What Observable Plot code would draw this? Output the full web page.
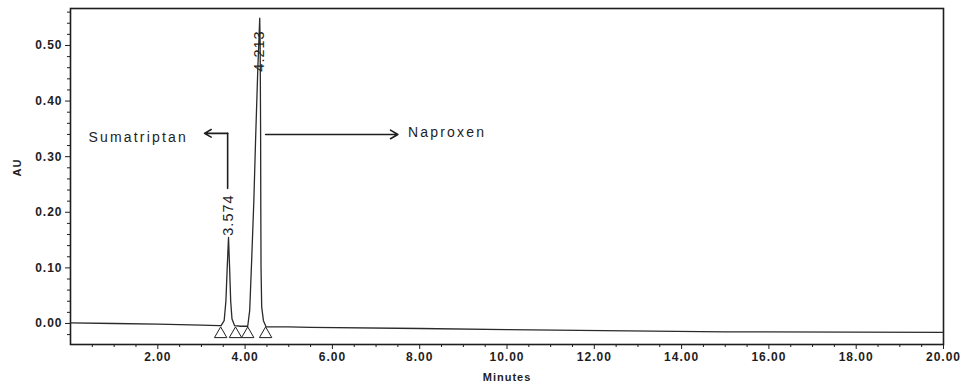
<!DOCTYPE html>
<html><head><meta charset="utf-8">
<script src="https://cdn.jsdelivr.net/npm/d3@7"></script>
<script src="https://cdn.jsdelivr.net/npm/@observablehq/plot@0.6"></script>
<style>
body{margin:0;background:#fff;}
#chart svg{display:block;}
</style>
</head><body><div id="chart"></div>
<script>
// Chromatogram trace (minutes, AU)
const traceTime = [0, 1, 2, 3, 3.40, 3.45, 3.52, 3.56, 3.59, 3.62, 3.645, 3.67, 3.70, 3.76, 3.90, 4.00, 4.06, 4.105, 4.15, 4.20, 4.24, 4.29, 4.335, 4.345, 4.355, 4.36, 4.365, 4.38, 4.42, 4.48, 5.0, 5.5, 8.0, 10.0, 12.2, 15.0, 20.0];
const traceAU   = [0.001, 0.0, -0.001, -0.003, -0.004, -0.004, 0.005, 0.04, 0.10, 0.155, 0.10, 0.04, 0.008, -0.004, -0.005, -0.005, -0.005, 0.023, 0.113, 0.22, 0.33, 0.455, 0.549, 0.50, 0.35, 0.20, 0.10, 0.03, 0.005, -0.006, -0.006, -0.007, -0.009, -0.011, -0.013, -0.015, -0.016];

// Peak retention-time labels
const peakLabels = ["3.574", "4.213"];
const peakLabelTime = [3.62, 4.33];
const peakLabelAU = [0.195, 0.49];

// Integration markers (triangles) at peak start / end
const markerTime = [3.44, 3.78, 4.06, 4.47];
const markerAU = [-0.019, -0.019, -0.019, -0.019];

// Compound annotations
const compoundNames = ["Sumatriptan", "Naproxen"];
const compoundTime = [0.41, 7.73];
const compoundAU = [0.335, 0.343];

// Arrows
const sumaStemTime = [3.60, 3.60];
const sumaStemAU = [0.243, 0.342];
const arrowX1 = [3.60, 4.47];
const arrowX2 = [3.07, 7.50];
const arrowY = [0.342, 0.340];

// Axes
const xTicks = [2, 4, 6, 8, 10, 12, 14, 16, 18, 20];
const xTickLabels = ["2.00", "4.00", "6.00", "8.00", "10.00", "12.00", "14.00", "16.00", "18.00", "20.00"];
const xMinor = [0.5, 1, 1.5, 2.5, 3, 3.5, 4.5, 5, 5.5, 6.5, 7, 7.5, 8.5, 9, 9.5, 10.5, 11, 11.5, 12.5, 13, 13.5, 14.5, 15, 15.5, 16.5, 17, 17.5, 18.5, 19, 19.5];
const yTicks = [0, 0.1, 0.2, 0.3, 0.4, 0.5];
const yTickLabels = ["0.00", "0.10", "0.20", "0.30", "0.40", "0.50"];
const yMinor = [-0.02, 0.02, 0.04, 0.06, 0.08, 0.12, 0.14, 0.16, 0.18, 0.22, 0.24, 0.26, 0.28, 0.32, 0.34, 0.36, 0.38, 0.42, 0.44, 0.46, 0.48, 0.52, 0.54, 0.56];

const trace = traceTime.map((t, i) => ({t, au: traceAU[i]}));
const peaks = peakLabels.map((s, i) => ({s, t: peakLabelTime[i], au: peakLabelAU[i]}));
const markers = markerTime.map((t, i) => ({t, au: markerAU[i]}));
const names = compoundNames.map((s, i) => ({s, t: compoundTime[i], au: compoundAU[i]}));
const stem = sumaStemTime.map((t, i) => ({t, au: sumaStemAU[i]}));
const arrows = arrowX1.map((x1, i) => ({x1, x2: arrowX2[i], y: arrowY[i]}));

const ink = "#1e1e1e";

const chart = Plot.plot({
  width: 966,
  height: 392,
  marginLeft: 70,
  marginRight: 23,
  marginTop: 8,
  marginBottom: 48,
  style: {fontFamily: "Liberation Sans, Arial, sans-serif", background: "#fff", color: ink},
  x: {domain: [0, 20], label: null},
  y: {domain: [-0.0378, 0.5665], label: null},
  marks: [
    Plot.frame({stroke: ink, strokeWidth: 1.6}),
    Plot.axisX({ticks: xMinor, tickSize: 3, tickFormat: () => "", stroke: ink}),
    Plot.axisX({ticks: xTicks, tickSize: 5, tickPadding: 3, tickFormat: d => xTickLabels[xTicks.indexOf(d)], fontSize: 12, stroke: ink, fill: ink}),
    Plot.axisY({ticks: yMinor, tickSize: 3, tickFormat: () => "", stroke: ink}),
    Plot.axisY({ticks: yTicks, tickSize: 5, tickPadding: 3, tickFormat: d => yTickLabels[yTicks.indexOf(d)], fontSize: 12, stroke: ink, fill: ink}),
    Plot.text(["AU"], {frameAnchor: "left", rotate: -90, dx: -53, fontSize: 11, fill: ink}),
    Plot.text(["Minutes"], {frameAnchor: "bottom", dy: 36, fontSize: 11, fill: ink}),
    Plot.line(trace, {x: "t", y: "au", stroke: "#2a2a2a", strokeWidth: 1.3}),
    Plot.dot(markers, {x: "t", y: "au", symbol: "triangle", r: 4.6, stroke: ink, fill: "white", strokeWidth: 1}),
    Plot.text(peaks, {x: "t", y: "au", text: "s", rotate: -90, fontSize: 14.5, fill: ink}),
    Plot.text(names, {x: "t", y: "au", text: "s", textAnchor: "start", fontSize: 14, fill: ink}),
    Plot.line(stem, {x: "t", y: "au", stroke: ink, strokeWidth: 1.6}),
    Plot.arrow(arrows, {x1: "x1", y1: "y", x2: "x2", y2: "y", stroke: ink, strokeWidth: 1.6, headLength: 8})
  ]
});

const sel = d3.select(chart);
sel.selectAll("text").style("letter-spacing", "1px");
sel.selectAll("text").filter(function(){ return compoundNames.includes(this.textContent); }).style("letter-spacing", "2.2px");
sel.selectAll("text").filter(function(){ return xTickLabels.includes(this.textContent) || yTickLabels.includes(this.textContent) || this.textContent === "Minutes" || this.textContent === "AU"; }).style("font-weight", "bold");
document.getElementById("chart").append(chart);
</script>
</body></html>
